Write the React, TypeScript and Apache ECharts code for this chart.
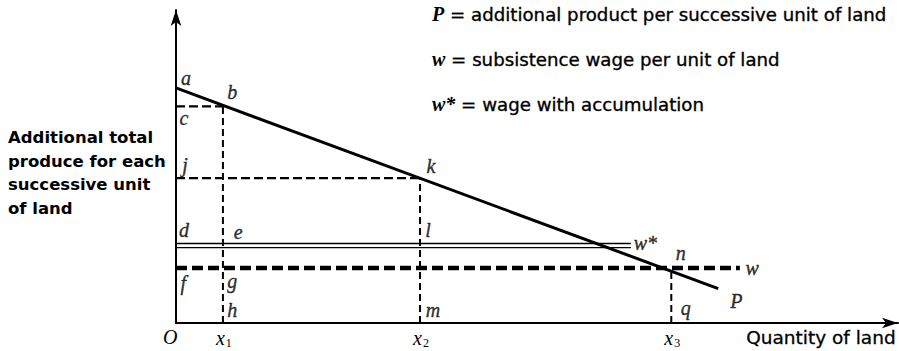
import React, { useEffect, useRef } from "react";
import * as echarts from "echarts";

// Quantity-of-land positions of x1, x2, x3
const landNames = ["x1", "x2", "x3"];
const landX = [6.5, 33.8, 68.6];
// Height of P at x1, x2, x3 (points b, k, n)
const heightAtLand = [69.2, 46.3, 17.6];
// P line: additional product per successive unit of land
const productX = [0, 75.1];
const productY = [75.1, 11.0];
// w: subsistence wage
const wageLevel = 17.6;
const wageEnd = 78.1;
// w*: wage with accumulation (double line)
const accumLevels = [25.4, 24.1];
const accumEnd = 63.0;

// Letter labels (name, x, y)
const letterNames = ["a", "b", "c", "j", "k", "d", "e", "l", "f", "g", "h", "m", "n", "q", "w*", "w", "P"];
const letterX = [1.4, 7.8, 1.1, 1.25, 35.3, 1.1, 8.6, 34.9, 1.0, 7.8, 7.8, 35.6, 69.9, 70.6, 65.0, 79.8, 77.6];
const letterY = [78.3, 73.8, 65.5, 50.5, 50.2, 29.7, 29.1, 29.7, 12.8, 13.4, 4.2, 4.2, 22.4, 4.8, 25.6, 17.6, 7.0];

const legendLines = [
  { sym: "P", text: " = additional product per successive unit of land" },
  { sym: "w", text: " = subsistence wage per unit of land" },
  { sym: "w*", text: " = wage with accumulation" },
];
const yAxisTitle = ["Additional total", "produce for each", "successive unit", "of land"];
const xAxisTitle = "Quantity of land";

const INK = "#000";
const serifItalic = {
  fontFamily: "Liberation Serif",
  fontStyle: "italic" as const,
  fontSize: 20,
  color: INK,
};

function seg(data: number[][], width: number, type: any) {
  return {
    type: "line",
    data,
    symbol: "none",
    silent: true,
    lineStyle: { color: INK, width, type, cap: "butt" },
    z: 3,
  };
}

export default function App() {
  const ref = useRef<HTMLDivElement>(null);
  useEffect(() => {
    const chart = echarts.init(ref.current!, undefined, { renderer: "svg" });
    const series: any[] = [];
    // P line
    series.push(seg([[productX[0], productY[0]], [productX[1], productY[1]]], 3, "solid"));
    // dashed guides
    landX.forEach((x, i) => {
      series.push(seg([[x, 0], [x, heightAtLand[i]]], 2, [7, 4]));
      if (i < 2) series.push(seg([[0, heightAtLand[i]], [x, heightAtLand[i]]], 2.2, [9, 4]));
    });
    // w line
    series.push(seg([[0, wageLevel], [wageEnd, wageLevel]], 4.5, [11, 5]));
    // w* double line
    accumLevels.forEach((v) => series.push(seg([[0, v], [accumEnd, v]], 1.3, "solid")));
    // letters
    series.push({
      type: "scatter",
      symbolSize: 0,
      silent: true,
      data: letterNames.map((n, i) => ({ value: [letterX[i], letterY[i]], name: n })),
      label: {
        show: true,
        position: "inside",
        formatter: (p: any) => p.name,
        ...serifItalic,
        textBorderColor: INK,
        textBorderWidth: 0.4,
      },
      z: 5,
    });

    const graphic: any[] = [];
    legendLines.forEach((l, i) => {
      graphic.push({
        type: "text",
        left: 432,
        top: 4 + i * 45,
        style: {
          text: `{s|${l.sym}}{t|${l.text}}`,
          rich: {
            s: { fontFamily: "Liberation Serif", fontStyle: "italic", fontWeight: "bold", fontSize: 20, fill: INK },
            t: { fontFamily: "DejaVu Sans", fontSize: 18.2, fill: INK, stroke: INK, lineWidth: 0.35 },
          },
        },
      });
    });
    graphic.push({
      type: "text",
      left: 8,
      top: 126,
      style: {
        text: yAxisTitle.join("\n"),
        fontFamily: "DejaVu Sans",
        fontWeight: "bold",
        fontSize: 16.5,
        lineHeight: 23.5,
        fill: INK,
      },
    });
    graphic.push({
      type: "text",
      left: 746,
      top: 328,
      style: { text: xAxisTitle, fontFamily: "DejaVu Sans", fontSize: 18.5, fill: INK, stroke: INK, lineWidth: 0.3 },
    });
    graphic.push({
      type: "text",
      left: 163,
      top: 327,
      style: { text: "O", ...serifItalic, fill: INK },
    });
    landNames.forEach((n, i) => {
      graphic.push({
        type: "text",
        left: 176 + landX[i] * 7.22 - 7,
        top: 328,
        style: {
          text: `{x|x}{s|${i + 1}}`,
          rich: {
            x: { ...serifItalic, fill: INK },
            s: { fontFamily: "Liberation Serif", fontSize: 12, fill: INK, padding: [10, 0, 0, 1] },
          },
        },
      });
    });

    chart.setOption({
      animation: false,
      grid: { left: 176, right: 1, top: 10, bottom: 28, containLabel: false },
      xAxis: {
        type: "value",
        min: 0,
        max: 100,
        axisLine: { show: true, lineStyle: { color: INK, width: 2 }, symbol: ["none", "arrow"], symbolSize: [8, 16] },
        axisTick: { show: false },
        axisLabel: { show: false },
        splitLine: { show: false },
      },
      yAxis: {
        type: "value",
        min: 0,
        max: 100,
        axisLine: { show: true, lineStyle: { color: INK, width: 2 }, symbol: ["none", "arrow"], symbolSize: [8, 16] },
        axisTick: { show: false },
        axisLabel: { show: false },
        splitLine: { show: false },
      },
      series,
      graphic,
    });
    return () => chart.dispose();
  }, []);
  return <div ref={ref} style={{ width: 899, height: 351, position: "absolute", left: 0, top: 0 }} />;
}
